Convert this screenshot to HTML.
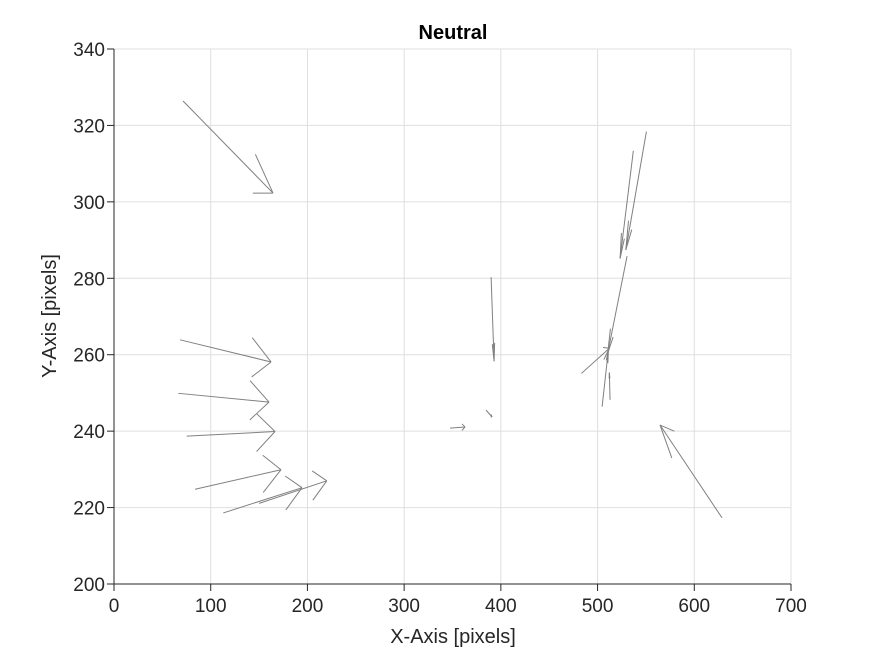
<!DOCTYPE html>
<html><head><meta charset="utf-8"><style>
body{margin:0;background:#fff;}
svg text{font-family:"Liberation Sans",Arial,sans-serif;fill:#262626;}
</style></head><body>
<svg id="chart" width="875" height="656" viewBox="0 0 875 656">
<rect width="875" height="656" fill="#fff"/>
<g id="grid"></g>
<g id="arrows"></g>
<g id="axes"></g>
<text x="453" y="39" text-anchor="middle" font-size="20" font-weight="bold" fill="#000" style="fill:#000">Neutral</text>
<text x="453" y="643" text-anchor="middle" font-size="20">X-Axis [pixels]</text>
<text transform="translate(56,316) rotate(-90)" text-anchor="middle" font-size="20">Y-Axis [pixels]</text>
</svg>
<script>
const xTicks=[0,100,200,300,400,500,600,700];
const yTicks=[200,220,240,260,280,300,320,340];
const startX=[71.4,68.3,66.5,75.2,83.8,113,150,389.9,347.5,384.7,550.5,537,530.5,483.3,504.7,512.9,628.7];
const startY=[326.4,263.9,249.9,238.7,224.8,218.6,221.1,280.3,240.8,245.5,318.4,313.4,285.8,255.1,246.4,248.2,217.3];
const endX=[164.4,162.4,160.3,166.5,172.7,194.4,220,393,363,390.9,529.2,523.3,510.5,512.2,511.2,512.2,564.6];
const endY=[302.3,258.1,247.6,239.9,229.9,225.2,227,258.3,241.1,243.7,287.4,285.2,260.4,261.7,261.3,255.3,241.6];
const NS="http://www.w3.org/2000/svg";
const X0=114,X1=791,Y0=584,Y1=49;
function sx(v){return X0+(v-0)/(700-0)*(X1-X0);}
function sy(v){return Y0-(v-200)/(340-200)*(Y0-Y1);}
function line(g,x1,y1,x2,y2,c,w){const l=document.createElementNS(NS,'line');l.setAttribute('x1',x1);l.setAttribute('y1',y1);l.setAttribute('x2',x2);l.setAttribute('y2',y2);l.setAttribute('stroke',c);l.setAttribute('stroke-width',w);g.appendChild(l);return l;}
const grid=document.getElementById('grid'),axes=document.getElementById('axes'),arr=document.getElementById('arrows');
xTicks.forEach(t=>{
  const gl=line(grid,sx(t),Y1,sx(t),Y0,'#dfdfdf',1);
  
  
  const tk=line(axes,sx(t),Y0,sx(t),Y0+7,'#262626',1);
  
  
  const tx=document.createElementNS(NS,'text');tx.setAttribute('x',sx(t));tx.setAttribute('y',612);tx.setAttribute('text-anchor','middle');tx.setAttribute('font-size','19');tx.textContent=t;
  
  
  axes.appendChild(tx);
});
yTicks.forEach(t=>{
  const gl=line(grid,X0,sy(t),X1,sy(t),'#dfdfdf',1);
  
  
  const tk=line(axes,X0-7,sy(t),X0,sy(t),'#262626',1);
  
  
  const tx=document.createElementNS(NS,'text');tx.setAttribute('x',X0-9);tx.setAttribute('y',sy(t)+7);tx.setAttribute('text-anchor','end');tx.setAttribute('font-size','19');tx.textContent=t;
  
  
  axes.appendChild(tx);
});
const xa=line(axes,X0,Y0,X1,Y0,'#262626',1);


const ya=line(axes,X0,Y1,X0,Y0,'#262626',1);


const a=0.21,b=0.26;
for(let i=0;i<startX.length;i++){
  const g=document.createElementNS(NS,'g');
  
  
  const u=endX[i]-startX[i],v=endY[i]-startY[i];
  line(g,sx(startX[i]),sy(startY[i]),sx(endX[i]),sy(endY[i]),'#808080',1);
  const h1x=endX[i]-a*(u+b*v),h1y=endY[i]-a*(v-b*u);
  const h2x=endX[i]-a*(u-b*v),h2y=endY[i]-a*(v+b*u);
  line(g,sx(h1x),sy(h1y),sx(endX[i]),sy(endY[i]),'#808080',1);
  line(g,sx(h2x),sy(h2y),sx(endX[i]),sy(endY[i]),'#808080',1);
  arr.appendChild(g);
}
</script>
</body></html>
